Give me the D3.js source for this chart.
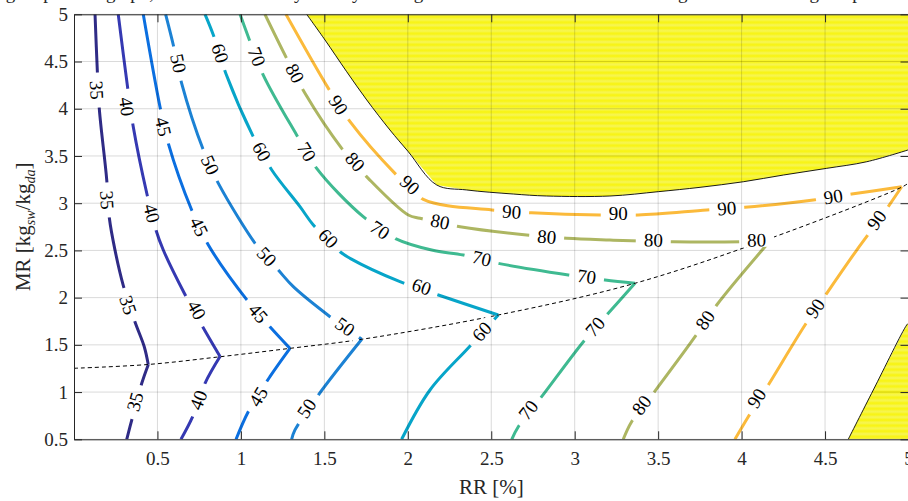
<!DOCTYPE html>
<html>
<head>
<meta charset="utf-8">
<script src="https://cdn.jsdelivr.net/npm/d3@7"></script>
<style>
  body { margin: 0; background: #ffffff; }
  svg { display: block; }
  text { font-family: "Liberation Serif", "DejaVu Serif", serif; }
</style>
</head>
<body>
<svg id="chart" width="908" height="501"></svg>
<script>
// ---- Axis ticks ----
const xTicks = [0.5, 1, 1.5, 2, 2.5, 3, 3.5, 4, 4.5, 5];
const yTicks = [0.5, 1, 1.5, 2, 2.5, 3, 3.5, 4, 4.5, 5];
const xTickLabels = ["0.5", "1", "1.5", "2", "2.5", "3", "3.5", "4", "4.5", "5"];
const yTickLabels = ["0.5", "1", "1.5", "2", "2.5", "3", "3.5", "4", "4.5", "5"];

// ---- Contour levels and their colours ----
const levels = [35, 40, 45, 50, 60, 70, 80, 90];
const levelColors = ["#2f2b86", "#3539b2", "#0b6fe0", "#1c82d4", "#07a5c9", "#3fba91", "#adb662", "#fbba3b"];

// ---- Contour lines: [RR %, MR] points, split into branches at the dashed ridge ----
const contour35 = [
  [[0.126, 5.0], [0.140, 4.39], [0.152, 3.99], [0.196, 3.25], [0.212, 2.84], [0.246, 2.50], [0.295, 2.13], [0.365, 1.745], [0.421, 1.48], [0.445, 1.29]],
  [[0.445, 1.29], [0.406, 1.093], [0.346, 0.704], [0.316, 0.5]]
];
const contour40 = [
  [[0.265, 5.0], [0.322, 4.216], [0.355, 3.81], [0.436, 3.105], [0.491, 2.716], [0.535, 2.504], [0.661, 2.046], [0.765, 1.71], [0.875, 1.376]],
  [[0.875, 1.376], [0.785, 1.093], [0.711, 0.739], [0.641, 0.5]]
];
const contour45 = [
  [[0.415, 5.0], [0.515, 4.022], [0.565, 3.634], [0.705, 2.928], [0.805, 2.557], [1.044, 1.957], [1.174, 1.692], [1.294, 1.463]],
  [[1.294, 1.463], [1.174, 1.163], [1.044, 0.792], [0.971, 0.5]]
];
const contour50 = [
  [[0.549, 5.0], [0.595, 4.675], [0.645, 4.269], [0.775, 3.563], [0.865, 3.21], [1.114, 2.504], [1.224, 2.292], [1.314, 2.116], [1.534, 1.798], [1.724, 1.559]],
  [[1.724, 1.559], [1.464, 0.969], [1.324, 0.599], [1.304, 0.5]]
];
const contour60 = [
  [[0.785, 5.0], [0.835, 4.781], [0.911, 4.368], [1.074, 3.704], [1.185, 3.351], [1.354, 2.963], [1.434, 2.769], [1.594, 2.486], [1.654, 2.416], [1.953, 2.169], [2.183, 2.028], [2.542, 1.816]],
  [[2.542, 1.816], [2.369, 1.48], [2.133, 1.022], [1.963, 0.5]]
];
const contour70 = [
  [[0.995, 5.0], [1.044, 4.763], [1.134, 4.357], [1.334, 3.722], [1.454, 3.369], [1.733, 2.857], [1.923, 2.628], [2.143, 2.504], [2.333, 2.451], [2.542, 2.363], [2.962, 2.24], [3.182, 2.187], [3.361, 2.152]],
  [[3.361, 2.152], [3.201, 1.834], [3.052, 1.533], [2.802, 0.951], [2.662, 0.633], [2.623, 0.5]]
];
const contour80 = [
  [[1.144, 5.0], [1.274, 4.534], [1.384, 4.163], [1.604, 3.581], [1.763, 3.263], [2.003, 2.875], [2.073, 2.84], [2.313, 2.751], [2.712, 2.663], [2.952, 2.628], [3.211, 2.61], [3.591, 2.592], [4.0, 2.592], [4.17, 2.60]],
  [[4.17, 2.60], [3.851, 1.922], [3.721, 1.586], [3.471, 0.987], [3.341, 0.686], [3.291, 0.5]]
];
const contour90 = [
  [[1.27, 5.0], [1.524, 4.216], [1.654, 3.863], [1.923, 3.316], [2.093, 3.041], [2.503, 2.928], [2.742, 2.899], [3.152, 2.875], [3.381, 2.875], [3.791, 2.928], [4.02, 2.956], [4.43, 3.034], [4.66, 3.097], [4.959, 3.174]],
  [[4.959, 3.174], [4.889, 2.991], [4.749, 2.645], [4.69, 2.504], [4.51, 2.046], [4.38, 1.71], [4.16, 1.075], [4.04, 0.739], [3.96, 0.5]]
];

// ---- Inline label positions for each level ----
const labels35 = [[0.136, 4.198], [0.198, 3.034], [0.324, 1.922], [0.365, 0.898]];
const labels40 = [[0.316, 4.022], [0.466, 2.893], [0.735, 1.869], [0.745, 0.916]];
const labels45 = [[0.535, 3.81], [0.749, 2.751], [1.104, 1.834], [1.104, 0.951]];
const labels50 = [[0.625, 4.481], [0.815, 3.404], [1.155, 2.433], [1.624, 1.692], [1.394, 0.828]];
const labels60 = [[0.875, 4.587], [1.125, 3.545], [1.524, 2.628], [2.083, 2.116], [2.443, 1.639]];
const labels70 = [[1.095, 4.551], [1.394, 3.545], [1.833, 2.716], [2.443, 2.416], [3.072, 2.222], [3.122, 1.692], [2.722, 0.81]];
const labels80 = [[1.324, 4.375], [1.684, 3.439], [2.193, 2.804], [2.832, 2.645], [3.471, 2.61], [4.09, 2.61], [3.781, 1.763], [3.401, 0.863]];
const labels90 = [[1.584, 4.04], [2.013, 3.193], [2.622, 2.91], [3.261, 2.893], [3.911, 2.946], [4.549, 3.069], [4.809, 2.822], [4.44, 1.887], [4.09, 0.934]];

// ---- Ridge of optimal points (dashed) ----
const ridgeLine = [[0.0, 1.252], [0.443, 1.292], [0.875, 1.374], [1.294, 1.463], [1.724, 1.559], [2.542, 1.816], [3.361, 2.152], [4.152, 2.615], [4.961, 3.171], [5.0, 3.213]];

// ---- Infeasible regions (yellow) boundaries ----
const upperRegionEdge = [[1.394, 5.0], [1.504, 4.728], [1.634, 4.392], [1.754, 4.093], [1.893, 3.775], [2.003, 3.545], [2.173, 3.193], [2.353, 3.14], [2.632, 3.097], [2.832, 3.076], [3.211, 3.076], [3.501, 3.122], [3.751, 3.168], [4.01, 3.227], [4.25, 3.298], [4.51, 3.369], [4.75, 3.439], [5.0, 3.565]];
const lowerRegionEdge = [[4.639, 0.5], [4.789, 1.022], [4.989, 1.71], [5.0, 1.73]];

const titleText = "Operating map of the graph, outside which only the dry cooling mode is valid for the overall design and the cooling temperature of the air stream";

// ---------------------------------------------------------------
const contourBranches = [contour35, contour40, contour45, contour50, contour60, contour70, contour80, contour90];
const labelPositions = [labels35, labels40, labels45, labels50, labels60, labels70, labels80, labels90];
const levelData = levels.map((lv, i) => ({
  level: lv, color: levelColors[i], branches: contourBranches[i], labels: labelPositions[i]
}));

const svg = d3.select("#chart");
const pL = 74, pR = 908.5, pT = 14.3, pB = 439.3;
const x = d3.scaleLinear().domain([0, 5]).range([pL, pR]);
const y = d3.scaleLinear().domain([0.5, 5]).range([pB, pT]);
const axisColor = "#262626";

const defs = svg.append("defs");
defs.append("clipPath").attr("id", "plotClip")
  .append("rect").attr("x", pL).attr("y", pT).attr("width", pR - pL).attr("height", pB - pT);

// horizontal banding of the yellow fill
const grad = defs.append("linearGradient").attr("id", "bandGrad")
  .attr("x1", 0).attr("y1", 0).attr("x2", 0).attr("y2", 1);
grad.append("stop").attr("offset", "0%").attr("stop-color", "#f8f40a");
grad.append("stop").attr("offset", "50%").attr("stop-color", "#f6f55a");
grad.append("stop").attr("offset", "100%").attr("stop-color", "#f8f40a");
defs.append("pattern").attr("id", "bands").attr("patternUnits", "userSpaceOnUse")
  .attr("width", 20).attr("height", 5.6)
  .append("rect").attr("width", 20).attr("height", 5.6).attr("fill", "url(#bandGrad)");

// Title (sits above the plot, mostly outside the frame)
svg.append("text")
  .attr("x", (pL + pR) / 2).attr("y", -1)
  .attr("text-anchor", "middle")
  .attr("font-size", 19).attr("fill", axisColor)
  .text(titleText);

const plot = svg.append("g").attr("clip-path", "url(#plotClip)");
const line = d3.line().x(d => x(d[0])).y(d => y(d[1]));
const smooth = d3.line().x(d => x(d[0])).y(d => y(d[1])).curve(d3.curveCatmullRom.alpha(0.5));

// Yellow regions
const upperPoly = upperRegionEdge.concat([[5.0, 5.0]]);
const lowerPoly = lowerRegionEdge.concat([[5.0, 0.5]]);
[upperPoly, lowerPoly].forEach(poly => {
  plot.append("path").attr("d", line(poly) + "Z").attr("fill", "url(#bands)").attr("stroke", "none");
});
[upperRegionEdge, lowerRegionEdge].forEach(edge => {
  plot.append("path").attr("d", smooth(edge)).attr("fill", "none").attr("stroke", "#000").attr("stroke-width", 0.9);
});

// Contour lines
levelData.forEach(ld => {
  ld.branches.forEach(br => {
    plot.append("path").attr("d", smooth(br)).attr("fill", "none")
      .attr("stroke", ld.color).attr("stroke-width", 3).attr("stroke-linejoin", "miter");
  });
});

// Dashed ridge line
plot.append("path").attr("d", smooth(ridgeLine)).attr("fill", "none")
  .attr("stroke", "#000").attr("stroke-width", 1).attr("stroke-dasharray", "4,3");

// Label orientation follows the nearest contour segment
function labelAngle(branches, px, py) {
  let best = Infinity, ang = 0;
  branches.forEach(br => {
    for (let i = 0; i < br.length - 1; i++) {
      const ax = x(br[i][0]), ay = y(br[i][1]), bx = x(br[i + 1][0]), by = y(br[i + 1][1]);
      const dx = bx - ax, dy = by - ay, L2 = dx * dx + dy * dy;
      let t = L2 ? ((px - ax) * dx + (py - ay) * dy) / L2 : 0;
      t = Math.max(0, Math.min(1, t));
      const qx = ax + t * dx, qy = ay + t * dy;
      const d = (px - qx) ** 2 + (py - qy) ** 2;
      if (d < best) { best = d; ang = Math.atan2(dy, dx) * 180 / Math.PI; }
    }
  });
  if (ang > 90) ang -= 180;
  if (ang <= -90) ang += 180;
  return ang;
}

const labelItems = [];
levelData.forEach(ld => {
  ld.labels.forEach(p => {
    const px = x(p[0]), py = y(p[1]);
    labelItems.push({ text: String(ld.level), px, py, angle: labelAngle(ld.branches, px, py) });
  });
});

// White gaps under the inline labels, grid on top, then label text
const maskLayer = plot.append("g");
const gridLayer = svg.append("g");
const textLayer = svg.append("g").attr("clip-path", "url(#plotClip)");

labelItems.forEach(it => {
  const g = textLayer.append("g").attr("transform", `translate(${it.px},${it.py}) rotate(${it.angle})`);
  const t = g.append("text").attr("text-anchor", "middle").attr("dy", "0.34em")
    .attr("font-size", 19).attr("fill", "#000").text(it.text);
  const w = t.node().getComputedTextLength();
  maskLayer.append("rect")
    .attr("transform", `translate(${it.px},${it.py}) rotate(${it.angle})`)
    .attr("x", -w / 2 - 8).attr("y", -7).attr("width", w + 16).attr("height", 14)
    .attr("fill", "#fff");
});

gridLayer.selectAll("line.gx").data(xTicks).join("line").attr("class", "gx")
  .attr("x1", d => x(d)).attr("x2", d => x(d)).attr("y1", pT).attr("y2", pB)
  .attr("stroke", "#000").attr("stroke-opacity", 0.15).attr("stroke-width", 1);
gridLayer.selectAll("line.gy").data(yTicks).join("line").attr("class", "gy")
  .attr("x1", pL).attr("x2", pR).attr("y1", d => y(d)).attr("y2", d => y(d))
  .attr("stroke", "#000").attr("stroke-opacity", 0.15).attr("stroke-width", 1);

// Axes with inward ticks on all four sides
function styleAxis(g) {
  g.selectAll("path.domain").attr("stroke", axisColor).attr("stroke-width", 1);
  g.selectAll(".tick line").attr("stroke", axisColor);
  g.selectAll(".tick text").attr("fill", axisColor).attr("font-size", 19)
    .attr("font-family", "'Liberation Serif', 'DejaVu Serif', serif");
}
svg.append("g").attr("transform", `translate(0,${pB})`)
  .call(d3.axisBottom(x).tickValues(xTicks).tickFormat((d, i) => xTickLabels[i]).tickSizeInner(-8).tickSizeOuter(0).tickPadding(12))
  .call(styleAxis);
svg.append("g").attr("transform", `translate(0,${pT})`)
  .call(d3.axisTop(x).tickValues(xTicks).tickFormat("").tickSizeInner(-8).tickSizeOuter(0))
  .call(styleAxis);
svg.append("g").attr("transform", `translate(${pL},0)`)
  .call(d3.axisLeft(y).tickValues(yTicks).tickFormat((d, i) => yTickLabels[i]).tickSizeInner(-8).tickSizeOuter(0).tickPadding(6))
  .call(styleAxis);
svg.append("g").attr("transform", `translate(${pR},0)`)
  .call(d3.axisRight(y).tickValues(yTicks).tickFormat("").tickSizeInner(-8).tickSizeOuter(0))
  .call(styleAxis);

// Axis titles
svg.append("text").attr("x", (pL + pR) / 2).attr("y", 494)
  .attr("text-anchor", "middle").attr("font-size", 21).attr("fill", axisColor)
  .text("RR [%]");

const yl = svg.append("text")
  .attr("transform", `translate(30,${(pT + pB) / 2}) rotate(-90)`)
  .attr("text-anchor", "middle").attr("font-size", 21).attr("fill", axisColor);
yl.append("tspan").text("MR [kg");
yl.append("tspan").attr("font-size", 14).attr("font-style", "italic").attr("dy", 5).text("sw");
yl.append("tspan").attr("dy", -5).text("/kg");
yl.append("tspan").attr("font-size", 14).attr("font-style", "italic").attr("dy", 5).text("da");
yl.append("tspan").attr("dy", -5).text("]");
</script>
</body>
</html>
